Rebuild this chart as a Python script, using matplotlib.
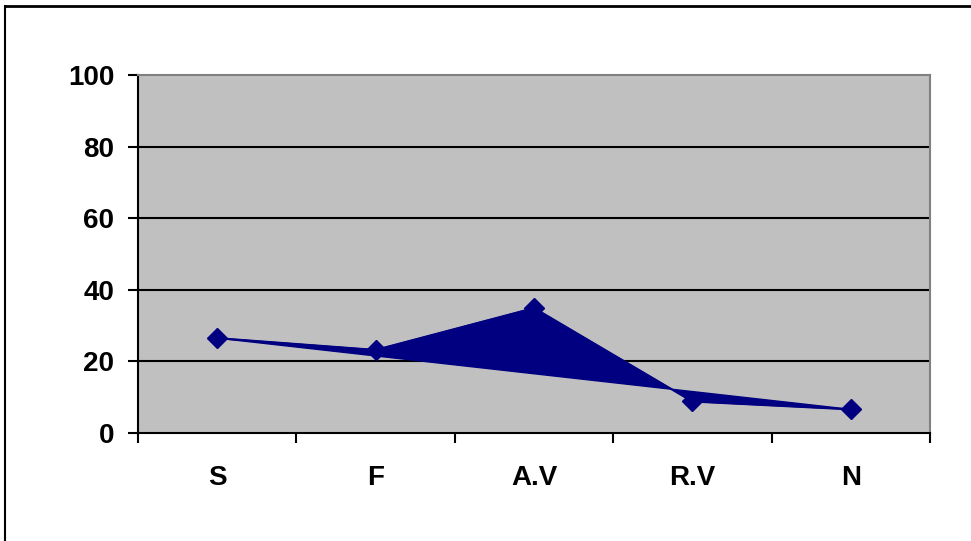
import numpy as np
import matplotlib.pyplot as plt
from matplotlib.lines import Line2D
from matplotlib.ticker import FixedLocator, NullFormatter, FixedFormatter

# chart data
categories = ['S', 'F', 'A.V', 'R.V', 'N']
values = [26.5, 23.2, 34.9, 8.8, 6.6]
y_ticks = [0, 20, 40, 60, 80, 100]

plt.rcParams['font.family'] = ['Liberation Sans', 'DejaVu Sans']
plt.rcParams['font.weight'] = 'bold'

navy = '#000080'

fig = plt.figure(figsize=(9.71, 5.41), dpi=100)
ax = fig.add_axes([138 / 971, 108 / 541, 792 / 971, 358 / 541])
ax.set_facecolor('#c0c0c0')

x = np.arange(len(categories))
ax.fill(x, values, color=navy, zorder=3)
ax.plot(x, values, color=navy, lw=1.5, marker='D', markersize=10.5, zorder=4)

ax.set_xlim(-0.5, len(categories) - 0.5)
ax.set_ylim(0, 100)

# y axis
ax.set_yticks(y_ticks)
ax.tick_params(axis='y', direction='out', length=7, width=1.5, pad=10, labelsize=20)
for t in y_ticks[1:-1]:
    ax.axhline(t, color='black', lw=1.5, zorder=1)

# x axis: ticks at the boundaries, labels at the centres
ax.xaxis.set_major_locator(FixedLocator(np.arange(-0.5, len(categories))))
ax.xaxis.set_major_formatter(NullFormatter())
ax.xaxis.set_minor_locator(FixedLocator(x))
ax.xaxis.set_minor_formatter(FixedFormatter(categories))
ax.tick_params(axis='x', which='major', direction='out', length=7, width=1.5)
ax.tick_params(axis='x', which='minor', length=0, pad=23, labelsize=20)

for s in ['left', 'bottom']:
    ax.spines[s].set_color('black')
    ax.spines[s].set_linewidth(1.5)
for s in ['top', 'right']:
    ax.spines[s].set_color('#808080')
    ax.spines[s].set_linewidth(1.5)

# outer chart frame, cut at right and bottom
fx = 5 / 971
fy = 1 - 6 / 541
fig.add_artist(Line2D([fx, fx], [0, fy], color='black', lw=1.5, transform=fig.transFigure))
fig.add_artist(Line2D([fx, 1], [fy, fy], color='black', lw=2, transform=fig.transFigure))

fig.savefig('out.png', dpi=100)
